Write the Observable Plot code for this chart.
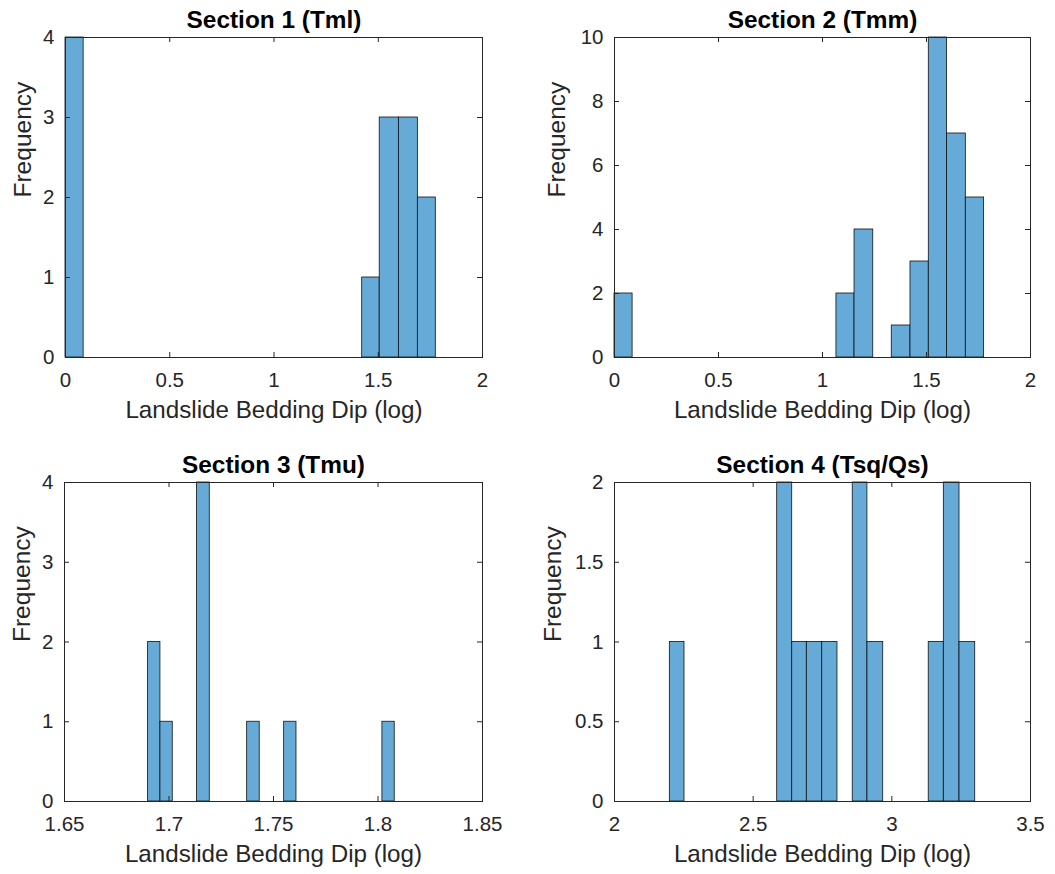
<!DOCTYPE html>
<html>
<head>
<meta charset="utf-8">
<script src="https://cdn.jsdelivr.net/npm/d3@7"></script>
<script src="https://cdn.jsdelivr.net/npm/@observablehq/plot@0.6"></script>
<style>
  html, body { margin: 0; padding: 0; background: #fff; }
  #wrap { position: relative; width: 1055px; height: 874px; background: #fff; overflow: hidden; }
  #wrap > svg { position: absolute; }
</style>
</head>
<body>
<div id="wrap"></div>
<script>
// ---- Data (bin left edge, bin right edge, count) ----
const titles = ["Section 1 (Tml)", "Section 2 (Tmm)", "Section 3 (Tmu)", "Section 4 (Tsq/Qs)"];
const xLabel = "Landslide Bedding Dip (log)";
const yLabel = "Frequency";

const s1Left  = [0, 1.423, 1.507, 1.599, 1.690];
const s1Right = [0.087, 1.507, 1.599, 1.690, 1.776];
const s1Count = [4, 1, 3, 3, 2];

const s2Left  = [0, 1.067, 1.154, 1.333, 1.423, 1.511, 1.599, 1.689];
const s2Right = [0.087, 1.154, 1.244, 1.423, 1.511, 1.599, 1.689, 1.777];
const s2Count = [2, 2, 4, 1, 3, 10, 7, 5];

const s3Left  = [1.6900, 1.6959, 1.7134, 1.7374, 1.7551, 1.8021];
const s3Right = [1.6959, 1.7018, 1.7195, 1.7434, 1.7610, 1.8080];
const s3Count = [2, 1, 4, 1, 1, 1];

const s4Left  = [2.1995, 2.5867, 2.6408, 2.6935, 2.7490, 2.8590, 2.9120, 3.1330, 3.1875, 3.2440];
const s4Right = [2.2524, 2.6408, 2.6935, 2.7490, 2.8040, 2.9120, 2.9690, 3.1875, 3.2440, 3.3007];
const s4Count = [1, 2, 1, 1, 1, 2, 1, 1, 2, 1];

const xTicks12 = [0, 0.5, 1, 1.5, 2];
const yTicks1 = [0, 1, 2, 3, 4];
const yTicks2 = [0, 2, 4, 6, 8, 10];
const xTicks3 = [1.65, 1.7, 1.75, 1.8, 1.85];
const yTicks3 = [0, 1, 2, 3, 4];
const xTicks4 = [2, 2.5, 3, 3.5];
const yTicks4 = [0, 0.5, 1, 1.5, 2];

// ---- Styling ----
const FONT = "'Liberation Sans', Arial, Helvetica, sans-serif";
const INK = "#262626";
const BAR = "#66aad7";

function rows(l, r, c) { return l.map((d, i) => ({x1: d, x2: r[i], n: c[i]})); }

function panel(cfg) {
  const {title, data, xDomain, xTicks, yDomain, yTicks, left, top, width, height, mt, mr, mb, ml, yLabelOff} = cfg;
  const fw = width - ml - mr, fh = height - mt - mb, tk = 5;
  const svg = Plot.plot({
    width, height,
    marginTop: mt, marginRight: mr, marginBottom: mb, marginLeft: ml,
    style: {fontFamily: FONT, fontSize: "20px", color: INK, background: "transparent", overflow: "visible"},
    x: {domain: xDomain, ticks: xTicks, tickFormat: d => String(d), label: null},
    y: {domain: yDomain, ticks: yTicks, tickFormat: d => String(d), label: null},
    marks: [
      Plot.rectY(data, {x1: "x1", x2: "x2", y: "n", fill: BAR, stroke: "#111", strokeWidth: 0.8}),
      Plot.frame({stroke: INK, strokeWidth: 1}),
      // inward ticks on all four sides
      Plot.tickX(xTicks, {x: d => d, insetTop: fh - tk, stroke: INK}),
      Plot.tickX(xTicks, {x: d => d, insetBottom: fh - tk, stroke: INK}),
      Plot.tickY(yTicks, {y: d => d, insetRight: fw - tk, stroke: INK}),
      Plot.tickY(yTicks, {y: d => d, insetLeft: fw - tk, stroke: INK}),
      Plot.axisX({ticks: xTicks, tickFormat: d => String(d), tickSize: 0, tickPadding: 15, fontSize: 20.5, label: null, fill: INK}),
      Plot.axisY({ticks: yTicks, tickFormat: d => String(d), tickSize: 0, tickPadding: 11, fontSize: 20.5, label: null, fill: INK}),
      Plot.text([title], {text: d => d, frameAnchor: "top", dy: -10, lineAnchor: "bottom", fontSize: 24.4, fontWeight: "bold", fill: "#000"}),
      Plot.text([xLabel], {text: d => d, frameAnchor: "bottom", dy: 53, lineAnchor: "middle", fontSize: 24.2, fill: INK}),
      Plot.text([yLabel], {text: d => d, frameAnchor: "left", dx: -yLabelOff, rotate: -90, lineAnchor: "middle", fontSize: 24.5, fill: INK})
    ]
  });
  svg.style.left = left + "px";
  svg.style.top = top + "px";
  document.getElementById("wrap").appendChild(svg);
}

panel({title: titles[0], data: rows(s1Left, s1Right, s1Count), xDomain: [0, 2], xTicks: xTicks12, yDomain: [0, 4], yTicks: yTicks1,
  left: 0, top: 0, width: 530, height: 437, mt: 37, mr: 48, mb: 80, ml: 65, yLabelOff: 42});
panel({title: titles[1], data: rows(s2Left, s2Right, s2Count), xDomain: [0, 2], xTicks: xTicks12, yDomain: [0, 10], yTicks: yTicks2,
  left: 530, top: 0, width: 525, height: 437, mt: 37, mr: 25, mb: 80, ml: 84, yLabelOff: 57});
panel({title: titles[2], data: rows(s3Left, s3Right, s3Count), xDomain: [1.65, 1.85], xTicks: xTicks3, yDomain: [0, 4], yTicks: yTicks3,
  left: 0, top: 437, width: 530, height: 437, mt: 45, mr: 48, mb: 73, ml: 64, yLabelOff: 42});
panel({title: titles[3], data: rows(s4Left, s4Right, s4Count), xDomain: [2, 3.5], xTicks: xTicks4, yDomain: [0, 2], yTicks: yTicks4,
  left: 530, top: 437, width: 525, height: 437, mt: 45, mr: 25, mb: 73, ml: 84, yLabelOff: 61});
</script>
</body>
</html>
